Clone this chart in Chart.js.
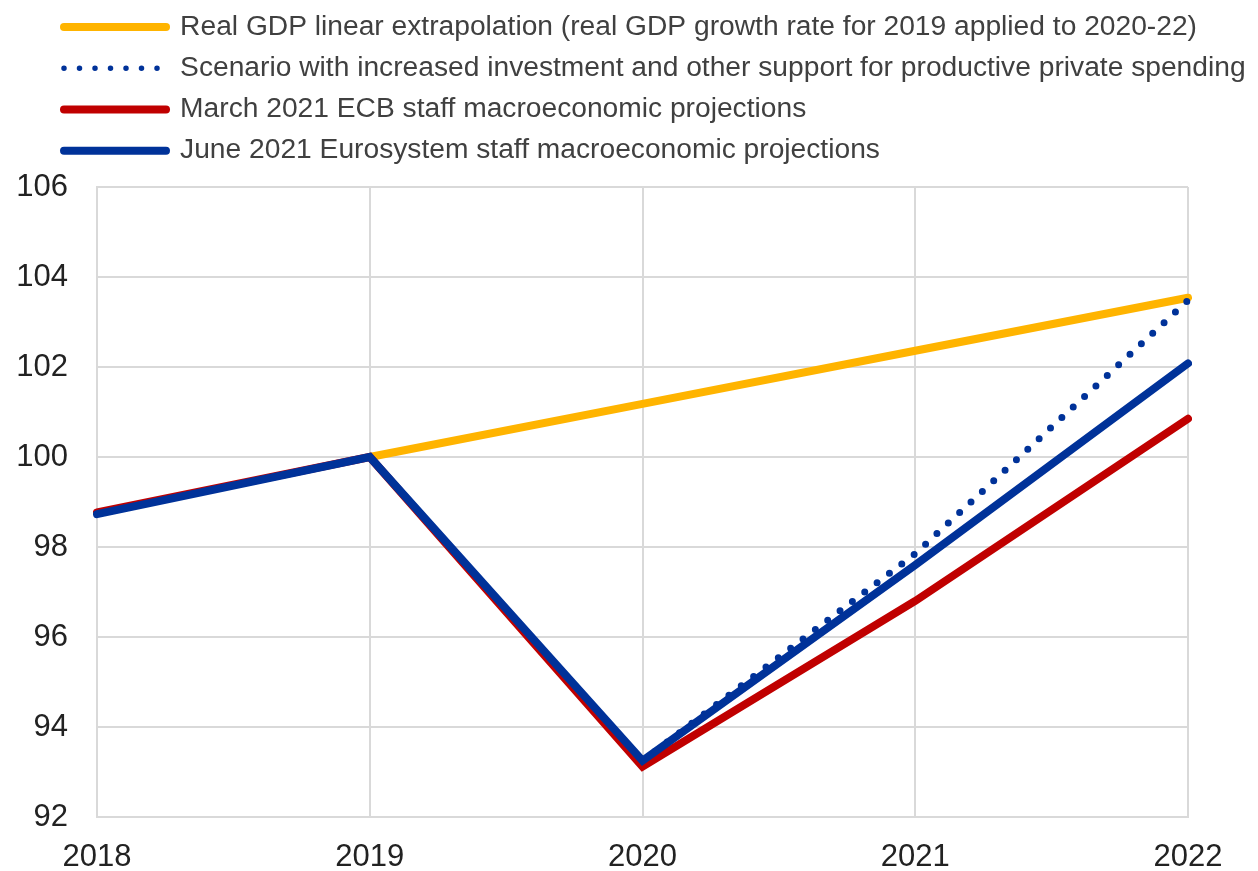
<!DOCTYPE html>
<html>
<head>
<meta charset="utf-8">
<script src="https://cdn.jsdelivr.net/npm/chart.js@4"></script>
<style>
  html, body { margin: 0; padding: 0; background: #fff; }
  #wrap { width: 1258px; height: 871px; }
</style>
</head>
<body>
<div id="wrap"><canvas id="gdpChart" width="1258" height="871"></canvas></div>
<script>
const years = ['2018', '2019', '2020', '2021', '2022'];

// index, 2019 = 100
const linearExtrapolation = [null, 100, 101.18, 102.36, 103.54];
const investmentScenario = [null, null, 93.25, 97.85, 103.48];
const march2021Ecb = [98.77, 100, 93.12, 96.8, 100.85];
const june2021Eurosystem = [98.73, 100, 93.25, 97.6, 102.08];

const yMin = 92;
const yMax = 106;
const yStep = 2;

const labelFont = "'Liberation Sans', Arial, sans-serif";

// legend spans the full canvas width while the plot keeps its own margins
const legendSpan = {
  id: 'legendSpan',
  afterLayout(chart) {
    chart.legend.left = 51;
    chart.legend.right = chart.width;
    chart.legend.width = chart.width - 51;
  }
};

// datasets listed back-to-front so the June line ends up on top; legend is reversed
new Chart(document.getElementById('gdpChart'), {
  type: 'line',
  data: {
    labels: years,
    datasets: [
      {
        label: 'June 2021 Eurosystem staff macroeconomic projections',
        data: june2021Eurosystem,
        borderColor: '#003299',
        borderWidth: 8,
        borderCapStyle: 'round'
      },
      {
        label: 'March 2021 ECB staff macroeconomic projections',
        data: march2021Ecb,
        borderColor: '#c00000',
        borderWidth: 8,
        borderCapStyle: 'round'
      },
      {
        label: 'Scenario with increased investment and other support for productive private spending',
        data: investmentScenario,
        borderColor: '#003299',
        borderWidth: 7,
        borderDash: [0, 15.5],
        borderCapStyle: 'round'
      },
      {
        label: 'Real GDP linear extrapolation (real GDP growth rate for 2019 applied to 2020-22)',
        data: linearExtrapolation,
        borderColor: '#ffb400',
        borderWidth: 8,
        borderCapStyle: 'round'
      }
    ]
  },
  plugins: [legendSpan],
  options: {
    responsive: false,
    animation: false,
    spanGaps: false,
    elements: { point: { radius: 0, hoverRadius: 0 }, line: { tension: 0 } },
    layout: { padding: { left: 0, right: 70, top: 0, bottom: 0 } },
    plugins: {
      tooltip: { enabled: false },
      title: {
        display: true,
        text: '',
        weight: 500,
        font: { size: 1 },
        padding: { top: 0, bottom: 11 }
      },
      legend: {
        position: 'top',
        align: 'start',
        reverse: true,
        labels: {
          usePointStyle: true,
          pointStyle: 'line',
          pointStyleWidth: 102,
          padding: 13,
          color: '#404040',
          font: { family: labelFont, size: 28.2 },
          generateLabels(chart) {
            return chart.data.datasets.map((ds, i) => {
              const dotted = !!ds.borderDash;
              return {
                text: ds.label,
                datasetIndex: i,
                fontColor: '#404040',
                strokeStyle: ds.borderColor,
                fillStyle: ds.borderColor,
                lineWidth: dotted ? 5.5 : 8,
                lineDash: dotted ? [0, 15.5] : [],
                lineCap: 'round',
                pointStyle: 'line',
                hidden: false
              };
            });
          }
        }
      }
    },
    scales: {
      x: {
        grid: { color: '#d9d9d9', lineWidth: 2, drawTicks: false },
        border: { color: '#d9d9d9', width: 2 },
        ticks: {
          color: '#222',
          padding: 22,
          maxRotation: 0,
          font: { family: labelFont, size: 31 }
        },
        afterFit(scale) { scale.height = 54; }
      },
      y: {
        min: yMin,
        max: yMax,
        grid: { color: '#d9d9d9', lineWidth: 2, drawTicks: false },
        border: { color: '#d9d9d9', width: 2 },
        ticks: {
          stepSize: yStep,
          color: '#222',
          padding: 29,
          font: { family: labelFont, size: 31 }
        },
        afterFit(scale) { scale.width = 97; }
      }
    }
  }
});
</script>
</body>
</html>
